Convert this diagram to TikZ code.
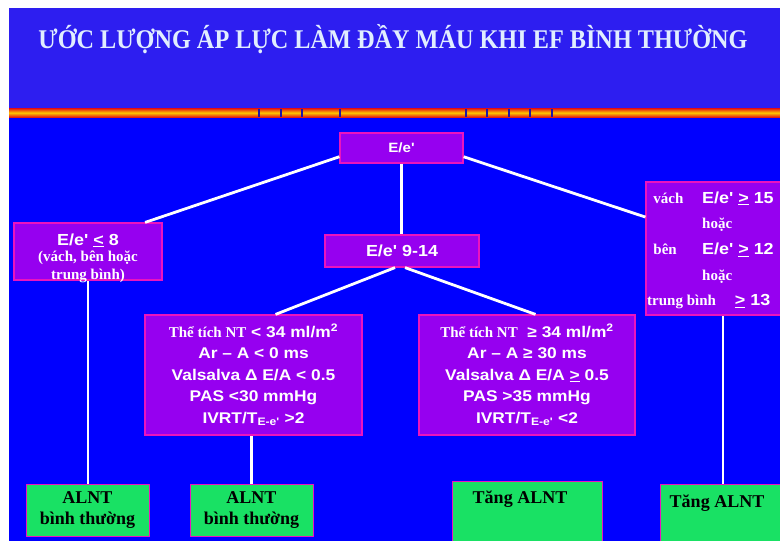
\documentclass[tikz,border=0pt]{standalone}
\usepackage{fontspec}
\usepackage{graphicx}
\setmainfont{Liberation Serif}
\newfontfamily\vs{Liberation Serif}
\newfontfamily\ar{Liberation Sans}[FakeStretch=1.12]
\usetikzlibrary{calc}
\definecolor{bgblue}{RGB}{0,0,255}
\definecolor{hdblue}{RGB}{45,30,240}
\definecolor{boxpurple}{RGB}{150,0,240}
\definecolor{boxedge}{RGB}{235,20,190}
\definecolor{boxgreen}{RGB}{25,225,100}
\definecolor{titlewhite}{RGB}{225,238,255}
\definecolor{stripred}{RGB}{225,10,20}
\definecolor{stripyel}{RGB}{255,200,0}
\newcommand{\vsf}{\vs\bfseries\fontsize{15}{18}\selectfont}
\begin{document}
\begin{tikzpicture}[x=1pt,y=-1pt,
  pbox/.style={draw=boxedge,line width=1.2pt,fill=boxpurple,text=white,inner sep=0pt,font=\ar\bfseries\fontsize{16}{18}\selectfont,align=center},
  gbox/.style={draw=boxedge,line width=0.8pt,fill=boxgreen,inner sep=0pt},
  gtext/.style={text=black,font=\vs\bfseries\fontsize{18}{21}\selectfont,align=center,inner sep=0pt},
  conn/.style={draw=white,line width=2.8pt}]
\clip (0,0) rectangle (780,541);
\useasboundingbox (0,0) rectangle (780,541);
% background
\fill[white] (0,0) rectangle (780,541);
\fill[bgblue] (9,8) rectangle (780,541);
\fill[hdblue] (9,8) rectangle (780,108);
% stripe
\shade[top color=stripred,bottom color=stripred,middle color=stripyel] (9,108) rectangle (780,117.5);
\foreach \gx in {259,281,302,340,466,487,509,530,552}
  \fill[hdblue!70!black] (\gx-0.6,109) rectangle (\gx+0.6,116.5);
% title
\node[text=titlewhite,anchor=base,inner sep=0pt] (title) at (393,48)
  {\resizebox{709pt}{\height}{\fontsize{27}{30}\selectfont\vs\bfseries ƯỚC LƯỢNG ÁP LỰC LÀM ĐẦY MÁU KHI EF BÌNH THƯỜNG}};
% boxes
\node[pbox,minimum width=123pt,minimum height=30pt,font=\ar\bfseries\fontsize{13.5}{16}\selectfont] (top) at (401.5,148) {E/e'};
\node[pbox,minimum width=148pt,minimum height=57pt] (left) at (88,251.5) {};
\node[text=white,inner sep=0pt,align=center,font=\ar\bfseries\fontsize{16}{18}\selectfont] (lefttxt) at (88,258)
  {E/e' \underline{<} 8\\[-2pt]{\vsf (vách, bên hoặc}\\[0pt]{\vsf trung bình)}};
\node[pbox,minimum width=154pt,minimum height=32pt] (mid) at (402,251) {E/e' 9-14};
\node[pbox,minimum width=140pt,minimum height=133pt] (right) at (716,248.5) {};
\node[anchor=north west,text=white,inner sep=0pt,font=\ar\bfseries\fontsize{16}{25.7}\selectfont] (righttxt) at (647,185)
  {\begin{tabular}{@{}p{55pt}@{}l@{}}
   {\vsf\ \,vách} & E/e' \underline{>} 15\\
   & {\vsf hoặc}\\
   {\vsf\ \,bên} & E/e' \underline{>} 12\\
   & {\vsf hoặc}\\
   \multicolumn{2}{@{}l@{}}{{\vsf trung bình}\hspace{19pt}\underline{>} 13}
   \end{tabular}};
\node[pbox,minimum width=217pt,minimum height=120pt,font=\ar\bfseries\fontsize{15.5}{21.5}\selectfont] (lowL) at (253.5,375)
  {{\vsf Thể tích NT} < 34 ml/m\textsuperscript{2}\\
   Ar – A < 0 ms\\
   Valsalva Δ E/A < 0.5\\
   PAS <30 mmHg\\
   IVRT/T\textsubscript{E-e'} >2};
\node[pbox,minimum width=216pt,minimum height=120pt,font=\ar\bfseries\fontsize{15.5}{21.5}\selectfont] (lowR) at (527,375)
  {{\vsf Thể tích NT}\ \ ≥ 34 ml/m\textsuperscript{2}\\
   Ar – A ≥ 30 ms\\
   Valsalva Δ E/A \underline{>} 0.5\\
   PAS >35 mmHg\\
   IVRT/T\textsubscript{E-e'} <2};
% green boxes
\node[gbox,minimum width=123pt,minimum height=52pt] (g1) at (87.5,510) {};
\node[gtext] (g1t) at (87.5,510) {ALNT\\bình thường};
\node[gbox,minimum width=123pt,minimum height=52pt] (g2) at (251.5,510) {};
\node[gtext] (g2t) at (251.5,510) {ALNT\\bình thường};
\node[gbox,minimum width=150pt,minimum height=66pt] (g3) at (527,514) {};
\node[gtext] (g3t) at (520,499) {Tăng ALNT};
\node[gbox,minimum width=126pt,minimum height=62pt] (g4) at (723,515) {};
\node[gtext] (g4t) at (717,503) {Tăng ALNT};
% connectors
\draw[conn] (top.188) -- (left.27);
\draw[conn] (top.352) -- (right.156);
\draw[conn] (top.south) -- (top.south |- mid.north);
\draw[conn] ($(mid.south)+(-7,0)$) -- (lowL.70);
\draw[conn] ($(mid.south)+(3,0)$) -- (lowR.82);
\draw[conn] (left.south) -- (left.south |- g1.north);
\draw[conn] (g2.north) -- (g2.north |- lowL.south);
\draw[conn] ($(g3.north)+(2,0)$) -- ($(g3.north)+(2,0)$ |- lowR.south);
\draw[conn] (g4.north) -- (g4.north |- right.south);
\end{tikzpicture}
\end{document}
